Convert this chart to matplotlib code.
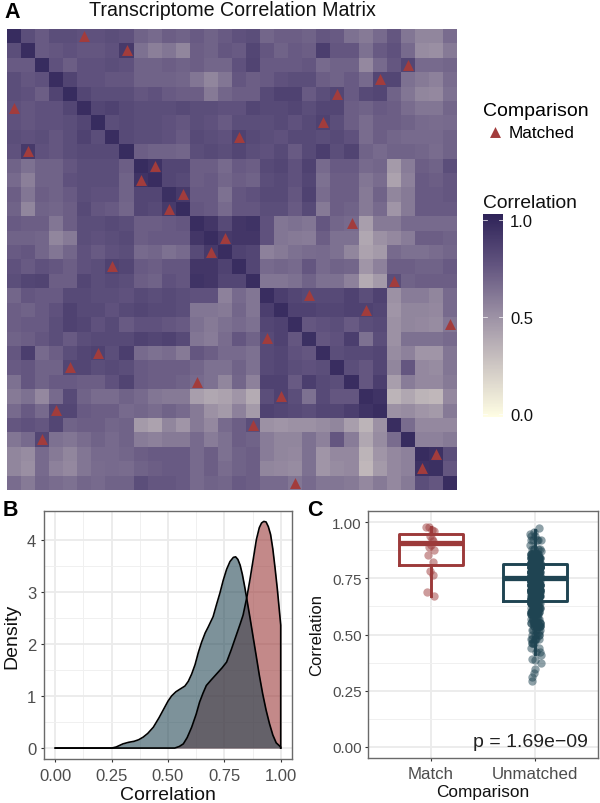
import numpy as np
import matplotlib
matplotlib.use("Agg")
import matplotlib.pyplot as plt
from matplotlib.colors import LinearSegmentedColormap, Normalize
from matplotlib.cm import ScalarMappable

plt.rcParams["font.family"] = ["Liberation Sans", "DejaVu Sans"]

W, H = 600, 804
RED = "#9c3a3a"
TEAL = "#1f4452"

# upper triangle of the correlation matrix, in hundredths, row by row
corr_upper = [
    [98,80,74,80,80,78,78,80,78,70,67,72,70,74,70,74,78,80,69,72,72,70,76,74,64,60,67,76,62,55,55,66],
    [97,74,76,78,76,76,78,90,64,58,62,55,72,70,76,74,84,76,70,74,72,88,76,76,64,74,78,67,52,51,60],
    [98,78,72,78,78,80,78,70,70,72,70,72,69,69,78,85,74,74,74,76,67,70,70,54,67,76,84,67,67,69],
    [97,85,78,78,76,76,70,70,70,69,62,55,62,76,72,74,78,80,80,72,70,74,67,84,84,64,60,57,66],
    [98,84,80,80,80,76,78,74,72,72,60,69,72,72,82,86,86,74,80,84,74,82,84,70,62,55,54,64],
    [97,84,86,82,80,80,80,82,80,80,78,78,84,82,82,84,80,84,84,72,70,74,72,66,62,62,69],
    [98,80,82,80,80,78,76,80,78,74,80,80,80,82,78,82,86,80,72,66,72,72,70,67,66,67],
    [97,82,80,80,78,74,82,80,78,86,82,80,78,82,82,80,82,78,66,72,69,67,67,67,70],
    [98,72,70,70,69,80,82,80,84,80,78,82,74,82,88,80,85,70,67,70,70,69,66,70],
    [98,94,84,84,72,72,67,74,72,82,84,78,86,67,74,74,67,69,46,59,72,70,80],
    [97,84,82,72,74,69,72,70,80,82,78,84,64,72,72,62,66,42,57,74,72,76],
    [96,90,74,74,64,76,78,82,82,76,86,66,72,72,60,70,55,60,74,74,76],
    [98,76,74,67,76,76,80,80,74,82,60,72,70,60,67,48,60,74,74,74],
    [97,92,82,92,94,78,62,64,62,76,69,67,44,60,60,67,67,67,67],
    [97,90,92,92,78,62,60,59,72,64,64,40,50,54,59,72,72,70],
    [97,86,84,57,60,64,66,67,64,55,42,46,67,64,64,66,69],
    [97,84,67,69,67,76,67,70,69,48,57,72,72,70,70,74],
    [97,62,62,64,70,64,64,57,38,46,80,70,72,72,72],
    [97,88,84,82,82,82,86,80,86,50,59,59,55,67],
    [97,86,86,84,84,86,86,84,48,55,55,54,67],
    [97,76,78,80,74,80,82,50,55,54,52,62],
    [96,76,78,88,64,80,50,64,64,64,67],
    [97,80,82,82,84,52,57,48,48,62],
    [97,80,76,84,55,76,54,52,62],
    [97,76,88,44,59,54,54,60],
    [97,94,34,40,34,32,54],
    [97,50,52,48,46,60],
    [97,66,54,54,54],
    [98,57,57,60],
    [98,95,80],
    [96,76],
    [97],
]

# column of the matched sample for each row
matched_cols = [5, 8, 28, 26, 23, 0, 22, 16, 1, 10, 9, 12, 11, 24, 15, 14,
                7, 27, 21, 25, 31, 18, 6, 4, 13, 19, 3, 17, 2, 30, 29, 20]

# density curves
unmatched_x = [0.00, 0.25, 0.27, 0.285, 0.30, 0.325, 0.35, 0.37, 0.39, 0.41, 0.435, 0.46, 0.48,
               0.50, 0.516, 0.535, 0.553, 0.575, 0.59, 0.605, 0.62, 0.635, 0.649, 0.665, 0.678,
               0.70, 0.715, 0.73, 0.745, 0.76, 0.775, 0.79, 0.80, 0.81, 0.82, 0.83, 0.84, 0.85,
               0.863, 0.878, 0.892, 0.905, 0.92, 0.935, 0.95, 0.965, 0.98, 1.00]
unmatched_d = [0.00, 0.00, 0.02, 0.05, 0.08, 0.11, 0.13, 0.16, 0.21, 0.28, 0.40, 0.58, 0.74,
               0.90, 1.00, 1.08, 1.13, 1.19, 1.28, 1.42, 1.60, 1.84, 2.03, 2.21, 2.32,
               2.52, 2.75, 2.97, 3.22, 3.43, 3.58, 3.66, 3.67, 3.62, 3.51, 3.33, 3.10, 2.85,
               2.52, 2.12, 1.75, 1.40, 1.04, 0.73, 0.47, 0.25, 0.10, 0.02]
match_x = [0.00, 0.53, 0.55, 0.568, 0.585, 0.605, 0.625, 0.64, 0.655, 0.67, 0.69, 0.715, 0.74,
           0.76, 0.78, 0.80, 0.82, 0.833, 0.85, 0.863, 0.878, 0.892, 0.905, 0.915, 0.925,
           0.935, 0.945, 0.955, 0.965, 0.975, 0.985, 1.00]
match_d = [0.00, 0.00, 0.03, 0.08, 0.20, 0.40, 0.65, 0.88, 1.05, 1.20, 1.30, 1.42, 1.54,
           1.65, 1.88, 2.13, 2.38, 2.55, 2.90, 3.22, 3.62, 4.00, 4.23, 4.32, 4.35,
           4.34, 4.25, 4.10, 3.82, 3.45, 3.05, 2.36]

# panel C points
match_vals = [0.976, 0.976, 0.963, 0.958, 0.94, 0.926, 0.915, 0.889, 0.877, 0.855,
              0.822, 0.782, 0.766, 0.689, 0.671, 0.90]
match_jit = [-0.05, -0.02, 0.01, 0.03, -0.01, 0.01, 0.02, -0.02, 0.03, -0.03,
             0.02, -0.01, 0.025, -0.04, 0.03, 0.0]

# the sparse ends of the unmatched column
unmatched_vals = [0.973, 0.955, 0.945, 0.92, 0.90, 0.87, 0.41, 0.39, 0.385, 0.375,
                  0.345, 0.33, 0.31, 0.295]
unmatched_jit = [0.04, -0.01, -0.05, 0.05, -0.05, 0.05, 0.05, -0.03, 0.0, 0.05,
                 -0.005, -0.015, -0.03, -0.035]
# sideways offsets used in turn for the points taken from the matrix
jitter_cycle = [0.0, -0.03, 0.04, -0.045, 0.015, 0.045, -0.015, -0.04, 0.03, 0.01, -0.025]

# box statistics of panel C
box_labels = ["Match", "Unmatched"]
box_q1 = [0.81, 0.65]
box_med = [0.905, 0.75]
box_q3 = [0.945, 0.815]
box_lo = [0.67, 0.415]
box_hi = [0.98, 0.965]

density_ticks = [0.00, 0.25, 0.50, 0.75, 1.00]


def px_axes(left, top, right, bottom):
    # axes from pixel edges of the 600x804 picture
    return fig.add_axes([left / W, 1 - bottom / H, (right - left) / W, (bottom - top) / H])


def theme_bw(ax):
    ax.set_axisbelow(True)
    ax.grid(True, which="major", color="#ebebeb", lw=1.3)
    ax.grid(True, which="minor", color="#f0f0f0", lw=0.7)
    ax.tick_params(which="minor", length=0)
    ax.tick_params(which="major", length=2.5, width=0.8, color="#333333")
    for s in ax.spines.values():
        s.set_color("#6a6a6a")
        s.set_linewidth(1.0)


fig = plt.figure(figsize=(W / 100, H / 100), dpi=100)

# matrix
n = len(corr_upper)
corr = np.zeros((n, n))
for i, row in enumerate(corr_upper):
    for j, v in enumerate(row):
        corr[i, i + j] = v / 100
        corr[i + j, i] = v / 100

cmap = LinearSegmentedColormap.from_list(
    "corr", ["#fffde3", "#cfc8c4", "#9b90a4", "#62547f", "#2e2358"])
norm = Normalize(-0.015, 1.03)

ax_a = px_axes(7, 30, 457, 491)
ax_a.imshow(corr, cmap=cmap, norm=norm, aspect="auto", interpolation="nearest")
tri = ax_a.scatter(matched_cols, np.arange(n) - 0.02, marker="^", s=62, color="#a23c3c",
                   linewidths=0, label="Matched", zorder=3)
ax_a.set_xticks([])
ax_a.set_yticks([])
for s in ax_a.spines.values():
    s.set_visible(False)

fig.text(232 / W, 1 - 10 / H, "Transcriptome Correlation Matrix", fontsize=14.1,
         ha="center", va="center", color="#111111")

leg = fig.legend(handles=[tri], title="Comparison", loc="upper left",
                 bbox_to_anchor=(483 / W, 1 - 103 / H), frameon=False, fontsize=12.3,
                 title_fontsize=14, borderpad=0, borderaxespad=0, handletextpad=0.1,
                 handlelength=1.4, labelspacing=0)
leg._legend_box.align = "left"
leg._legend_box.sep = 4

# colour bar
ax_cb = px_axes(483, 215, 503, 418)
cb = fig.colorbar(ScalarMappable(norm=norm, cmap=cmap), cax=ax_cb)
cb.outline.set_visible(False)
cb.set_ticks([0.0, 0.5, 1.0], labels=["0.0", "0.5", "1.0"])
cb.ax.tick_params(length=0, labelsize=12, pad=5, labelcolor="#111111")
for v in [0.0, 0.5, 1.0]:
    ax_cb.plot([0, 0.2], [v, v], color="white", lw=0.5, transform=ax_cb.get_yaxis_transform())
    ax_cb.plot([0.8, 1], [v, v], color="white", lw=0.5, transform=ax_cb.get_yaxis_transform())
fig.text(483 / W, 1 - 203 / H, "Correlation", fontsize=13.9, ha="left", va="center", color="#111111")

# density
ax_b = px_axes(44, 512, 292, 760)
ax_b.fill_between(match_x, match_d, color=RED, alpha=0.6, lw=0)
ax_b.fill_between(unmatched_x, unmatched_d, color=TEAL, alpha=0.58, lw=0)
ax_b.plot(match_x + [1.0], match_d + [0.0], color="black", lw=1.2)
ax_b.plot(unmatched_x + [1.0], unmatched_d + [0.0], color="black", lw=1.2)
ax_b.set_xlim(-0.05, 1.05)
ax_b.set_ylim(-0.21, 4.55)
ax_b.set_xticks(density_ticks, labels=["0.00", "0.25", "0.50", "0.75", "1.00"])
ax_b.set_xticks([0.125, 0.375, 0.625, 0.875], minor=True)
ax_b.set_yticks([0, 1, 2, 3, 4])
ax_b.set_yticks([0.5, 1.5, 2.5, 3.5], minor=True)
theme_bw(ax_b)
ax_b.tick_params(axis="x", which="major", labelsize=12, labelcolor="#4d4d4d", pad=4)
ax_b.tick_params(axis="y", which="major", labelsize=12, labelcolor="#4d4d4d", pad=3)
ax_b.set_xlabel("Correlation", fontsize=14, labelpad=2, color="#111111")
ax_b.set_ylabel("Density", fontsize=14, labelpad=5, color="#111111")

# box plot with points
ax_c = px_axes(368, 512, 598, 759)
pairs = [corr[i, j] for i in range(n) for j in range(i + 1, n)
         if matched_cols[i] != j and corr[i, j] > 0.41]
pair_jit = [jitter_cycle[k % len(jitter_cycle)] for k in range(len(pairs))]
ax_c.scatter(1 + np.array(match_jit), match_vals, s=36, color=RED, alpha=0.5, linewidths=0, zorder=2)
ax_c.scatter(2 + np.array(unmatched_jit + pair_jit), unmatched_vals + pairs, s=36, color=TEAL,
             alpha=0.5, linewidths=0, zorder=2)
for i, col in enumerate([RED, TEAL]):
    stats = [dict(med=box_med[i], q1=box_q1[i], q3=box_q3[i], whislo=box_lo[i], whishi=box_hi[i], fliers=[])]
    ax_c.bxp(stats, positions=[i + 1], widths=0.61, showcaps=False, showfliers=False,
             boxprops=dict(color=col, lw=2.1), whiskerprops=dict(color=col, lw=2.1),
             medianprops=dict(color=col, lw=3.8, solid_capstyle="butt"), zorder=3)
ax_c.set_xlim(0.4, 2.6)
ax_c.set_ylim(-0.049, 1.049)
ax_c.set_xticks([1, 2], labels=box_labels)
ax_c.set_yticks(density_ticks, labels=["0.00", "0.25", "0.50", "0.75", "1.00"])
ax_c.set_yticks([0.125, 0.375, 0.625, 0.875], minor=True)
theme_bw(ax_c)
ax_c.tick_params(axis="x", which="major", labelsize=12.2, labelcolor="#4d4d4d", pad=3.5)
ax_c.tick_params(axis="y", which="major", labelsize=11, labelcolor="#4d4d4d", pad=2)
ax_c.set_xlabel("Comparison", fontsize=12.4, labelpad=2, color="#111111")
ax_c.set_ylabel("Correlation", fontsize=12, labelpad=6, color="#111111")
ax_c.text(2.5, 0.025, "p = 1.69e\u221209", fontsize=14, ha="right", va="center", color="#222222")

# panel letters
fig.text(12 / W, 1 - 12 / H, "A", fontsize=15.5, fontweight="bold", ha="center", va="center")
fig.text(10.5 / W, 1 - 510 / H, "B", fontsize=15.5, fontweight="bold", ha="center", va="center")
fig.text(315 / W, 1 - 510 / H, "C", fontsize=15.5, fontweight="bold", ha="center", va="center")

fig.savefig("out.png", dpi=100)
